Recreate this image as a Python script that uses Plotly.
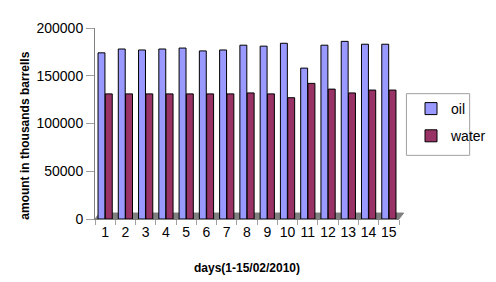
import plotly.graph_objects as go

days = [str(i) for i in range(1, 16)]
oil = [174000, 178000, 177000, 178000, 179000, 176000, 177000, 182000, 181000, 184000, 158000, 182000, 186000, 183000, 183000]
water = [131000, 131000, 131000, 131000, 131000, 131000, 131000, 132000, 131000, 127000, 142000, 136000, 132000, 135000, 135000]
y_ticks = [0, 50000, 100000, 150000, 200000]

W, H = 496, 282
L, R, T, B = 87, 82, 19, 71
pw, ph = W - L - R, H - T - B

fig = go.Figure()
fig.add_trace(go.Bar(x=days, y=oil, name="oil", legendgroup="a",
                     marker=dict(color="#9999FF", line=dict(color="#000000", width=1))))
fig.add_trace(go.Bar(x=days, y=water, name="water", legendgroup="b",
                     marker=dict(color="#993366", line=dict(color="#000000", width=1))))

# grey floor of the pseudo-3D chart
dx, dy = 5 / pw, 6 / ph
fig.add_shape(type="path", xref="paper", yref="paper", layer="below",
              path=f"M 0,0 L 1,0 L {1+dx},{dy} L {dx},{dy} Z",
              fillcolor="#808080", line=dict(color="#808080", width=1))
# legend frame
fig.add_shape(type="rect", xref="paper", yref="paper",
              x0=(422 - L) / pw, x1=(490 - L) / pw,
              y0=(H - B - 147) / ph, y1=(H - B - 85) / ph,
              line=dict(color="#A0A0A0", width=1), fillcolor="rgba(0,0,0,0)")
# y axis title
fig.add_annotation(text="<b>amount in thousands barrells</b>", xref="paper", yref="paper",
                   x=(12 - L) / pw, y=(H - B - 127) / ph, textangle=-90, showarrow=False,
                   xanchor="center", yanchor="middle", font=dict(size=12))

fig.update_layout(
    width=W, height=H,
    margin=dict(l=L, r=R, t=T, b=B),
    paper_bgcolor="white", plot_bgcolor="white",
    font=dict(family="Liberation Sans, Arial", size=14, color="#000000"),
    barmode="group", bargap=0.28, bargroupgap=0.05,
    showlegend=True,
    legend=dict(xref="container", yref="container", x=403 / W, y=1 - 85 / H,
                xanchor="left", yanchor="top",
                bgcolor="rgba(0,0,0,0)", borderwidth=0,
                tracegroupgap=6, font=dict(size=14)),
    xaxis=dict(title=dict(text="<b>days(1-15/02/2010)</b>", font=dict(size=12), standoff=24),
               showline=True, linecolor="#808080", ticks="outside", tickcolor="#A0A0A0",
               ticklen=5, tickson="boundaries", showgrid=False, tickangle=0,
               tickfont=dict(size=14)),
    yaxis=dict(range=[0, 200000], tickvals=y_ticks, ticktext=[str(v) for v in y_ticks],
               showline=True, linecolor="#808080", ticks="outside", tickcolor="#A0A0A0",
               ticklen=8, showgrid=False, zeroline=False, tickfont=dict(size=14)),
)
fig.write_html("out.html")
